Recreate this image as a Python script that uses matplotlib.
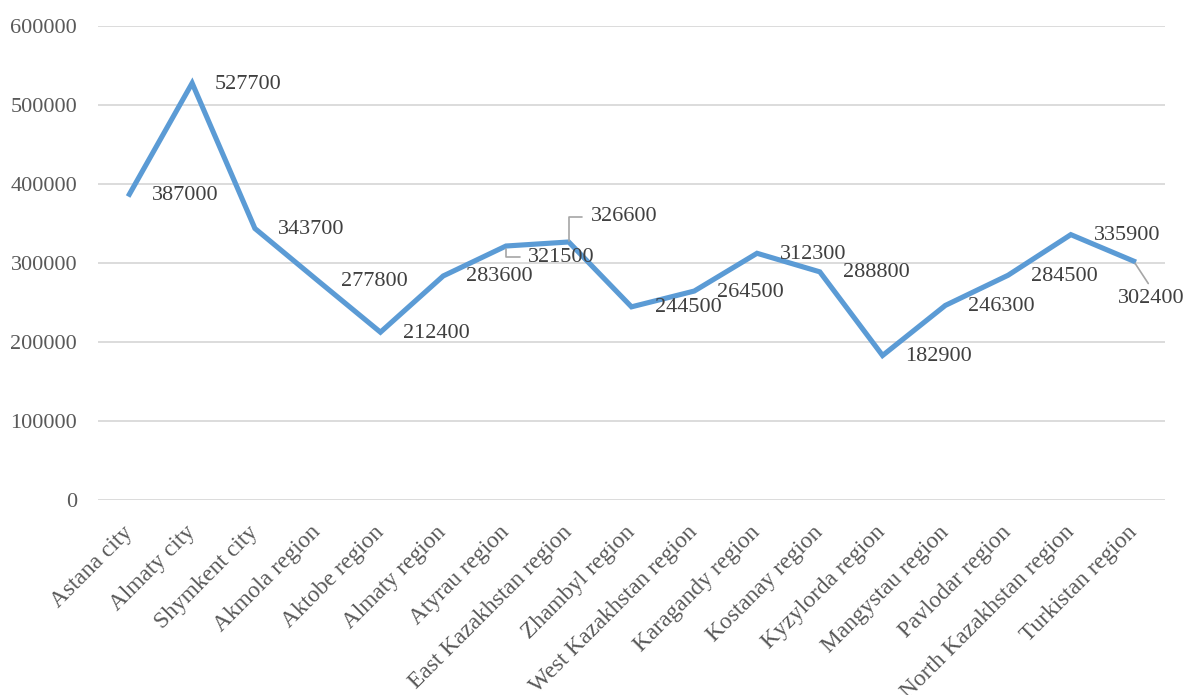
import matplotlib
matplotlib.use("Agg")
import matplotlib.pyplot as plt

regions = [
    "Astana city", "Almaty city", "Shymkent city", "Akmola region", "Aktobe region",
    "Almaty region", "Atyrau region", "East Kazakhstan region", "Zhambyl region",
    "West Kazakhstan region", "Karagandy region", "Kostanay region", "Kyzylorda region",
    "Mangystau region", "Pavlodar region", "North Kazakhstan region", "Turkistan region",
]
values = [
    387000, 527700, 343700, 277800, 212400, 283600, 321500, 326600, 244500,
    264500, 312300, 288800, 182900, 246300, 284500, 335900, 302400,
]
y_ticks = [0, 100000, 200000, 300000, 400000, 500000, 600000]

plt.rcParams["font.family"] = ["Liberation Serif", "DejaVu Serif"]

fig = plt.figure(figsize=(11.86, 6.95), dpi=100)
ax = fig.add_axes([98 / 1186, 1 - 500 / 695, (1165 - 98) / 1186, (500 - 26) / 695])

x = list(range(len(regions)))
ax.plot(x, values, color="#5B9BD5", linewidth=3.7, solid_joinstyle="miter", zorder=3)

ax.set_xlim(-0.5, len(regions) - 0.5)
ax.set_ylim(0, 600000)
ax.set_yticks(y_ticks)
ax.set_yticklabels([str(v) for v in y_ticks])
ax.grid(axis="y", color="#D9D9D9", linewidth=1.3, zorder=0)
ax.set_axisbelow(True)
for s in ax.spines.values():
    s.set_visible(False)
ax.tick_params(axis="both", length=0, colors="#595959", labelsize=16)
ax.tick_params(axis="y", pad=15)
ax.tick_params(axis="x", pad=21, labelsize=16.8)

ax.set_xticks(x)
ax.set_xticklabels(regions, rotation=45, ha="right", va="center", rotation_mode="anchor")
for lbl in ax.get_xticklabels():
    lbl.set_color("#595959")

label_color = "#404040"
leader_color = "#A6A6A6"
for i, v in enumerate(values):
    name = regions[i]
    if name == "Atyrau region":
        ax.annotate(str(v), xy=(i, v), xytext=(22, -11), textcoords="offset pixels",
                    ha="left", va="center", fontsize=16, color=label_color,
                    arrowprops=dict(arrowstyle="-", color=leader_color, lw=1.2,
                                    connectionstyle="angle,angleA=0,angleB=90,rad=0",
                                    relpos=(0, 0.5), shrinkA=4, shrinkB=2))
    elif name == "East Kazakhstan region":
        ax.annotate(str(v), xy=(i, v), xytext=(22, 25), textcoords="offset pixels",
                    ha="left", va="center", fontsize=16, color=label_color,
                    arrowprops=dict(arrowstyle="-", color=leader_color, lw=1.2,
                                    connectionstyle="angle,angleA=0,angleB=90,rad=0",
                                    relpos=(0, 0.5), shrinkA=4, shrinkB=1))
    elif name == "Turkistan region":
        ax.annotate(str(v), xy=(i, v), xytext=(18, -37), textcoords="offset pixels",
                    ha="center", va="center", fontsize=16, color=label_color,
                    arrowprops=dict(arrowstyle="-", color=leader_color, lw=1.2,
                                    relpos=(0.5, 1.0), shrinkA=2, shrinkB=2))
    else:
        ax.annotate(str(v), xy=(i, v), xytext=(23, -1), textcoords="offset pixels",
                    ha="left", va="center", fontsize=16, color=label_color)

fig.savefig("out.png", dpi=100, facecolor="white")
